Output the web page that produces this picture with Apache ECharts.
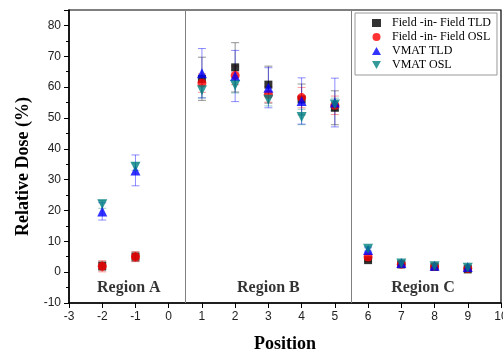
<!DOCTYPE html>
<html>
<head>
<meta charset="utf-8">
<script src="https://cdn.jsdelivr.net/npm/echarts@6/dist/echarts.min.js"></script>
<style>
  html, body { margin: 0; padding: 0; background: #fff; }
  #chart { width: 503px; height: 349px; }
</style>
</head>
<body>
<div id="chart"></div>
<script>
// positions along the x axis
const positions = [-2, -1, 1, 2, 3, 4, 5, 6, 7, 8, 9];

// Field-in-Field TLD
const fifTld = [2.0, 5.0, 62.7, 66.4, 60.8, 56.0, 53.3, 3.9, 2.5, 1.7, 0.9];
const fifTldErr = [1.5, 1.5, 7.0, 8.0, 6.0, 5.0, 5.5, 0.5, 0.4, 0.3, 0.3];

// Field-in-Field OSL
const fifOsl = [1.9, 5.0, 61.3, 63.8, 57.6, 56.6, 54.1, 4.9, 2.6, 1.8, 1.2];
const fifOslErr = [1.8, 1.6, 3.0, 3.0, 2.5, 3.3, 3.0, 0.8, 0.3, 0.3, 0.3];

// VMAT TLD
const vmatTld = [19.7, 33.0, 64.5, 63.6, 59.8, 55.5, 55.0, 7.2, 3.0, 2.1, 1.7];
const vmatTldErr = [2.8, 5.0, 8.0, 8.3, 6.5, 7.5, 7.9, 0.7, 0.5, 0.4, 0.4];

// VMAT OSL
const vmatOsl = [22.0, 34.2, 59.0, 60.6, 55.9, 50.3, 54.4, 7.6, 2.8, 1.9, 1.4];
const vmatOslErr = [1.3, 1.2, 2.5, 2.5, 2.0, 2.5, 2.0, 0.7, 0.3, 0.3, 0.3];

const regionNames = ["Region A", "Region B", "Region C"];
const regionX = [-1.2, 3.0, 7.65];
const regionY = -5.0;
const dividers = [0.5, 5.5];

const downTri = "path://M0,0 L10,0 L5,9 Z";

const seriesDefs = [
  { name: "Field -in- Field TLD", vals: fifTld, errs: fifTldErr, color: "#000000", err: "rgba(60,60,60,0.55)", symbol: "rect", size: 8, icon: "rect" },
  { name: "Field -in- Field OSL", vals: fifOsl, errs: fifOslErr, color: "#ff0000", err: "rgba(255,0,0,0.4)", symbol: "circle", size: 9, icon: "circle" },
  { name: "VMAT TLD", vals: vmatTld, errs: vmatTldErr, color: "#0000ff", err: "rgba(0,0,255,0.45)", symbol: "triangle", size: 10, icon: "triangle" },
  { name: "VMAT OSL", vals: vmatOsl, errs: vmatOslErr, color: "#008080", err: "rgba(0,128,128,0.4)", symbol: downTri, size: 10, icon: downTri },
];

const serif = "'Liberation Serif', 'DejaVu Serif', serif";
const sans = "'Liberation Sans', Arial, sans-serif";

const series = [];

seriesDefs.forEach(function (d) {
  series.push({
    type: "custom",
    name: d.name + " err",
    z: 2,
    silent: true,
    data: positions.map(function (p, i) {
      return [p, d.vals[i] - d.errs[i], d.vals[i] + d.errs[i]];
    }),
    renderItem: function (params, api) {
      const lo = api.coord([api.value(0), api.value(1)]);
      const hi = api.coord([api.value(0), api.value(2)]);
      const w = 4;
      const style = { stroke: d.err, lineWidth: 1 };
      return {
        type: "group",
        children: [
          { type: "line", shape: { x1: lo[0], y1: lo[1], x2: hi[0], y2: hi[1] }, style: style },
          { type: "line", shape: { x1: lo[0] - w, y1: lo[1], x2: lo[0] + w, y2: lo[1] }, style: style },
          { type: "line", shape: { x1: hi[0] - w, y1: hi[1], x2: hi[0] + w, y2: hi[1] }, style: style },
        ],
      };
    },
  });
});

seriesDefs.forEach(function (d, k) {
  series.push({
    type: "scatter",
    name: d.name,
    z: 3 + k,
    symbol: d.symbol,
    symbolSize: d.size,
    itemStyle: { color: d.color },
    data: positions.map(function (p, i) {
      return [p, d.vals[i]];
    }),
  });
});

// region labels and divider lines
series.push({
  type: "scatter",
  name: "regions",
  symbolSize: 0,
  silent: true,
  label: {
    show: true,
    position: "inside",
    formatter: function (p) { return p.data.name; },
    color: "#000",
    fontFamily: serif,
    fontWeight: "bold",
    fontSize: 16,
  },
  data: regionNames.map(function (n, i) {
    return { name: n, value: [regionX[i], regionY] };
  }),
  markLine: {
    silent: true,
    symbol: "none",
    label: { show: false },
    lineStyle: { color: "#808080", type: "solid", width: 1 },
    data: dividers.map(function (x) { return { xAxis: x }; }),
  },
});

const chart = echarts.init(document.getElementById("chart"));
chart.setOption({
  animation: false,
  backgroundColor: "#fff",
  grid: {
    left: 69, right: 2, top: 10, bottom: 46,
    outerBoundsMode: "none",
    containLabel: false,
    show: true, borderColor: "#000", borderWidth: 1.2,
  },
  legend: {
    data: seriesDefs.map(function (d) { return { name: d.name, icon: d.icon }; }),
    orient: "vertical",
    left: 355,
    top: 13,
    padding: [4, 6, 4, 17],
    itemGap: 2,
    itemWidth: 9,
    itemHeight: 8,
    backgroundColor: "#fff",
    borderColor: "#999",
    borderWidth: 1,
    textStyle: { fontFamily: serif, fontSize: 12, color: "#000", padding: [0, 0, 0, 6] },
  },
  xAxis: {
    type: "value",
    min: -3, max: 10, interval: 1,
    name: "Position",
    nameLocation: "middle",
    nameGap: 32,
    nameTextStyle: { fontFamily: serif, fontWeight: "bold", fontSize: 18, color: "#000" },
    splitLine: { show: false },
    axisLine: { onZero: false, lineStyle: { color: "#000", width: 1.5 } },
    axisTick: { inside: false, length: 5, lineStyle: { color: "#000" } },
    axisLabel: { fontFamily: sans, fontSize: 12, color: "#222", margin: 8 },
  },
  yAxis: {
    type: "value",
    min: -10, max: 85, interval: 10,
    name: "Relative Dose (%)",
    nameLocation: "middle",
    nameGap: 36,
    nameTextStyle: { fontFamily: serif, fontWeight: "bold", fontSize: 18, color: "#000", padding: [0, 20, 0, 0] },
    splitLine: { show: false },
    axisLine: { onZero: false, lineStyle: { color: "#000", width: 1.5 } },
    axisTick: { inside: false, length: 5, lineStyle: { color: "#000" } },
    minorTick: { show: true, splitNumber: 2, length: 3, lineStyle: { color: "#000" } },
    axisLabel: {
      fontFamily: sans, fontSize: 12, color: "#222", margin: 8,
      formatter: function (v) { return v > 80 ? "" : v; },
    },
  },
  series: series,
});
</script>
</body>
</html>
